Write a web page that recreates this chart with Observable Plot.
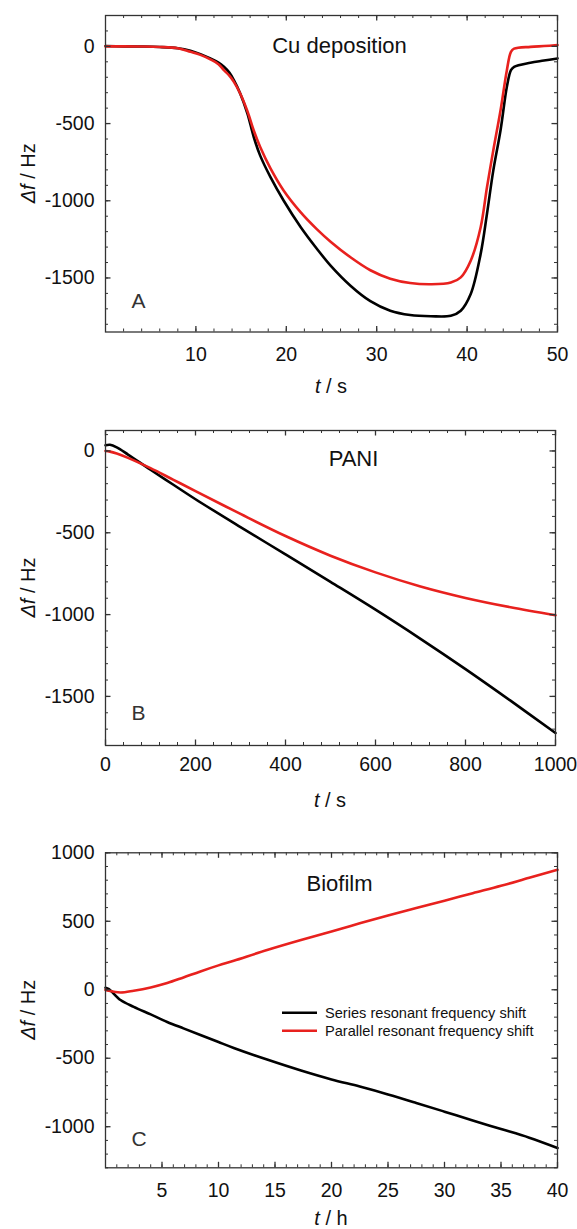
<!DOCTYPE html>
<html><head><meta charset="utf-8">
<script src="https://cdn.jsdelivr.net/npm/d3@7"></script>
<script src="https://cdn.jsdelivr.net/npm/@observablehq/plot@0.6"></script>
<style>
body{margin:0;background:#fff;}
#wrap{position:relative;width:577px;height:1229px;overflow:hidden;font-family:"Liberation Sans",Arial,Helvetica,sans-serif;}
#wrap svg{position:absolute;left:0;overflow:visible;}
</style></head><body><div id="wrap"></div>
<script>
// ---------- Panel A: Cu deposition ----------
const tA = [0, 2, 4, 6, 8, 9.4, 10.5, 11.6, 12.5, 13.1, 13.7, 14.2, 14.9, 15.7, 16.4, 17.1, 18.25, 19.7, 21.6, 23.4, 24.9, 27.1, 29.3, 31.5, 33.7, 36, 38.2, 39.3, 40.4, 41.5, 42.2, 42.9, 43.7, 44.4, 44.85, 45.2, 47, 48.5, 50];
const seriesA = [2, 0, -1, -4, -12, -28, -50, -78, -105, -132, -170, -219, -305, -435, -587, -706, -847, -998, -1171, -1312, -1420, -1550, -1650, -1712, -1740, -1748, -1745, -1712, -1604, -1344, -1084, -803, -543, -262, -154, -132, -106, -92, -78];
const parallelA = [0, 0, -1, -4, -12, -35, -55, -84, -115, -154, -190, -230, -305, -420, -545, -650, -790, -933, -1075, -1185, -1265, -1366, -1450, -1505, -1533, -1541, -1530, -1496, -1388, -1171, -912, -673, -414, -154, -35, -15, -3, 2, 8];
const xTicksA = [10, 20, 30, 40, 50];
const yTicksA = [-1500, -1000, -500, 0];

// ---------- Panel B: PANI ----------
const tB = [0, 10, 25, 50, 100, 150, 200, 300, 400, 500, 600, 700, 800, 900, 1000];
const seriesB = [35, 38, 22, -22, -115, -205, -295, -465, -632, -800, -970, -1148, -1333, -1526, -1724];
const parallelB = [0, -4, -16, -42, -105, -175, -245, -385, -520, -640, -742, -828, -898, -955, -1004];
const xTicksB = [0, 200, 400, 600, 800, 1000];
const yTicksB = [-1500, -1000, -500, 0];

// ---------- Panel C: Biofilm ----------
const tC = [0, 0.3, 1.33, 2.5, 4, 5.46, 6.9, 8.4, 10, 11.35, 14.3, 17.3, 20, 22.5, 25, 27.5, 30, 32.5, 35, 37.5, 40];
const seriesC = [15, 5, -75, -125, -180, -235, -282, -330, -382, -425, -510, -590, -655, -707, -764, -826, -890, -955, -1017, -1080, -1155];
const parallelC = [0, -8, -20, -7, 17, 49, 90, 134, 178, 212, 290, 363, 425, 485, 543, 597, 650, 705, 759, 818, 876];
const xTicksC = [5, 10, 15, 20, 25, 30, 35, 40];
const yTicksC = [-1000, -500, 0, 500, 1000];

const legendLabels = ["Series resonant frequency shift", "Parallel resonant frequency shift"];
const RED = "#e8211e";
const FONT = '"Liberation Sans", Arial, Helvetica, sans-serif';

const range = (a, b, s) => d3.range(a, b + s / 2, s);

function panel(o) {
  const W = 577;
  const fw = W - o.ml - o.mr, fh = o.h - o.mt - o.mb;
  const tickCol = "#333";
  const fmt = d => String(d);
  const svg = Plot.plot({
    width: W, height: o.h,
    marginTop: o.mt, marginBottom: o.mb, marginLeft: o.ml, marginRight: o.mr,
    x: {domain: o.xDomain},
    y: {domain: o.yDomain},
    style: {fontFamily: FONT, fontSize: "19.5px", color: "#111", background: "transparent", overflow: "visible"},
    marks: [
      Plot.line(o.t, {x: d => d, y: (d, i) => o.series[i], stroke: "#000", strokeWidth: 2.6, curve: "catmull-rom"}),
      Plot.line(o.t, {x: d => d, y: (d, i) => o.parallel[i], stroke: RED, strokeWidth: 2.6, curve: "catmull-rom"}),
      // minor ticks (inward, all sides)
      Plot.ruleX(o.xMinor, {x: d => d, insetTop: fh - 3, stroke: tickCol}),
      Plot.ruleX(o.xMinor, {x: d => d, insetBottom: fh - 3, stroke: tickCol}),
      Plot.ruleY(o.yMinor, {y: d => d, insetRight: fw - 3, stroke: tickCol}),
      Plot.ruleY(o.yMinor, {y: d => d, insetLeft: fw - 3, stroke: tickCol}),
      // major ticks
      Plot.ruleX(o.xMajor, {x: d => d, insetTop: fh - 5.5, stroke: tickCol, strokeWidth: 1.3}),
      Plot.ruleX(o.xMajor, {x: d => d, insetBottom: fh - 5.5, stroke: tickCol, strokeWidth: 1.3}),
      Plot.ruleY(o.yMajor, {y: d => d, insetRight: fw - 5.5, stroke: tickCol, strokeWidth: 1.3}),
      Plot.ruleY(o.yMajor, {y: d => d, insetLeft: fw - 5.5, stroke: tickCol, strokeWidth: 1.3}),
      Plot.frame({stroke: "#333", strokeWidth: 1.3}),
      Plot.axisX(o.xMajor, {tickSize: 0, tickPadding: o.xPad, tickFormat: fmt, label: null, fontSize: 19.5}),
      Plot.axisY(o.yMajor, {tickSize: 0, tickPadding: 11, tickFormat: fmt, label: null, fontSize: 19.5}),
      Plot.text([o.title], {frameAnchor: "top-left", dx: o.titleX - o.ml, dy: o.titleY - o.mt, lineAnchor: "bottom", textAnchor: "middle", fontSize: 22, fill: "#111"}),
      Plot.text([o.letter], {frameAnchor: "top-left", dx: 131 - o.ml, dy: o.letterY - o.mt, lineAnchor: "bottom", textAnchor: "start", fontSize: 21, fill: "#333"})
    ]
  });
  svg.style.top = o.top + "px";
  const s = d3.select(svg);
  // x axis title
  const xt = s.append("text").attr("x", o.ml + fw / 2).attr("y", o.xLabelY)
    .attr("text-anchor", "middle").attr("font-size", 20).attr("font-family", FONT).attr("fill", "#111");
  xt.append("tspan").attr("font-style", "italic").text("t");
  xt.append("tspan").text(" / " + o.unit);
  // y axis title
  const yt = s.append("text").attr("transform", `translate(35,${o.mt + fh / 2}) rotate(-90)`)
    .attr("text-anchor", "middle").attr("font-size", 20).attr("font-family", FONT).attr("fill", "#111");
  yt.append("tspan").attr("font-style", "italic").text("\u0394f");
  yt.append("tspan").text(" / Hz");
  if (o.legend) {
    const cols = ["#000", RED];
    legendLabels.forEach((lab, i) => {
      const y = 192.7 + i * 18;
      s.append("line").attr("x1", 282).attr("x2", 317).attr("y1", y).attr("y2", y)
        .attr("stroke", cols[i]).attr("stroke-width", 2.6);
      s.append("text").attr("x", 325).attr("y", y + 5.2).attr("font-size", 14.6)
        .attr("text-anchor", "start")
        .attr("font-family", FONT).attr("fill", "#111").text(lab);
    });
  }
  document.getElementById("wrap").appendChild(svg);
}

panel({
  top: 0, h: 400, mt: 15, mb: 68.5, ml: 105, mr: 20,
  xDomain: [0, 50], yDomain: [-1850, 200],
  t: tA, series: seriesA, parallel: parallelA,
  xMajor: xTicksA, xMinor: range(0, 50, 2), yMajor: yTicksA, yMinor: range(-1800, 200, 100),
  xPad: 15, title: "Cu deposition", titleX: 339, titleY: 52, letter: "A", letterY: 307,
  xLabelY: 393, unit: "s"
});
panel({
  top: 400, h: 420, mt: 30, mb: 75, ml: 105, mr: 22,
  xDomain: [0, 1000], yDomain: [-1800, 125],
  t: tB, series: seriesB, parallel: parallelB,
  xMajor: xTicksB, xMinor: range(0, 1000, 40), yMajor: yTicksB, yMinor: range(-1800, 100, 100),
  xPad: 12, title: "PANI", titleX: 353, titleY: 65, letter: "B", letterY: 319,
  xLabelY: 407, unit: "s"
});
panel({
  top: 820, h: 409, mt: 32.3, mb: 61.7, ml: 105, mr: 20,
  xDomain: [0, 40], yDomain: [-1300, 1000],
  t: tC, series: seriesC, parallel: parallelC,
  xMajor: xTicksC, xMinor: range(0, 40, 1), yMajor: yTicksC, yMinor: range(-1300, 1000, 100),
  xPad: 15.5, title: "Biofilm", titleX: 339, titleY: 70, letter: "C", letterY: 325,
  xLabelY: 405, unit: "h", legend: true
});
</script>
</body></html>
